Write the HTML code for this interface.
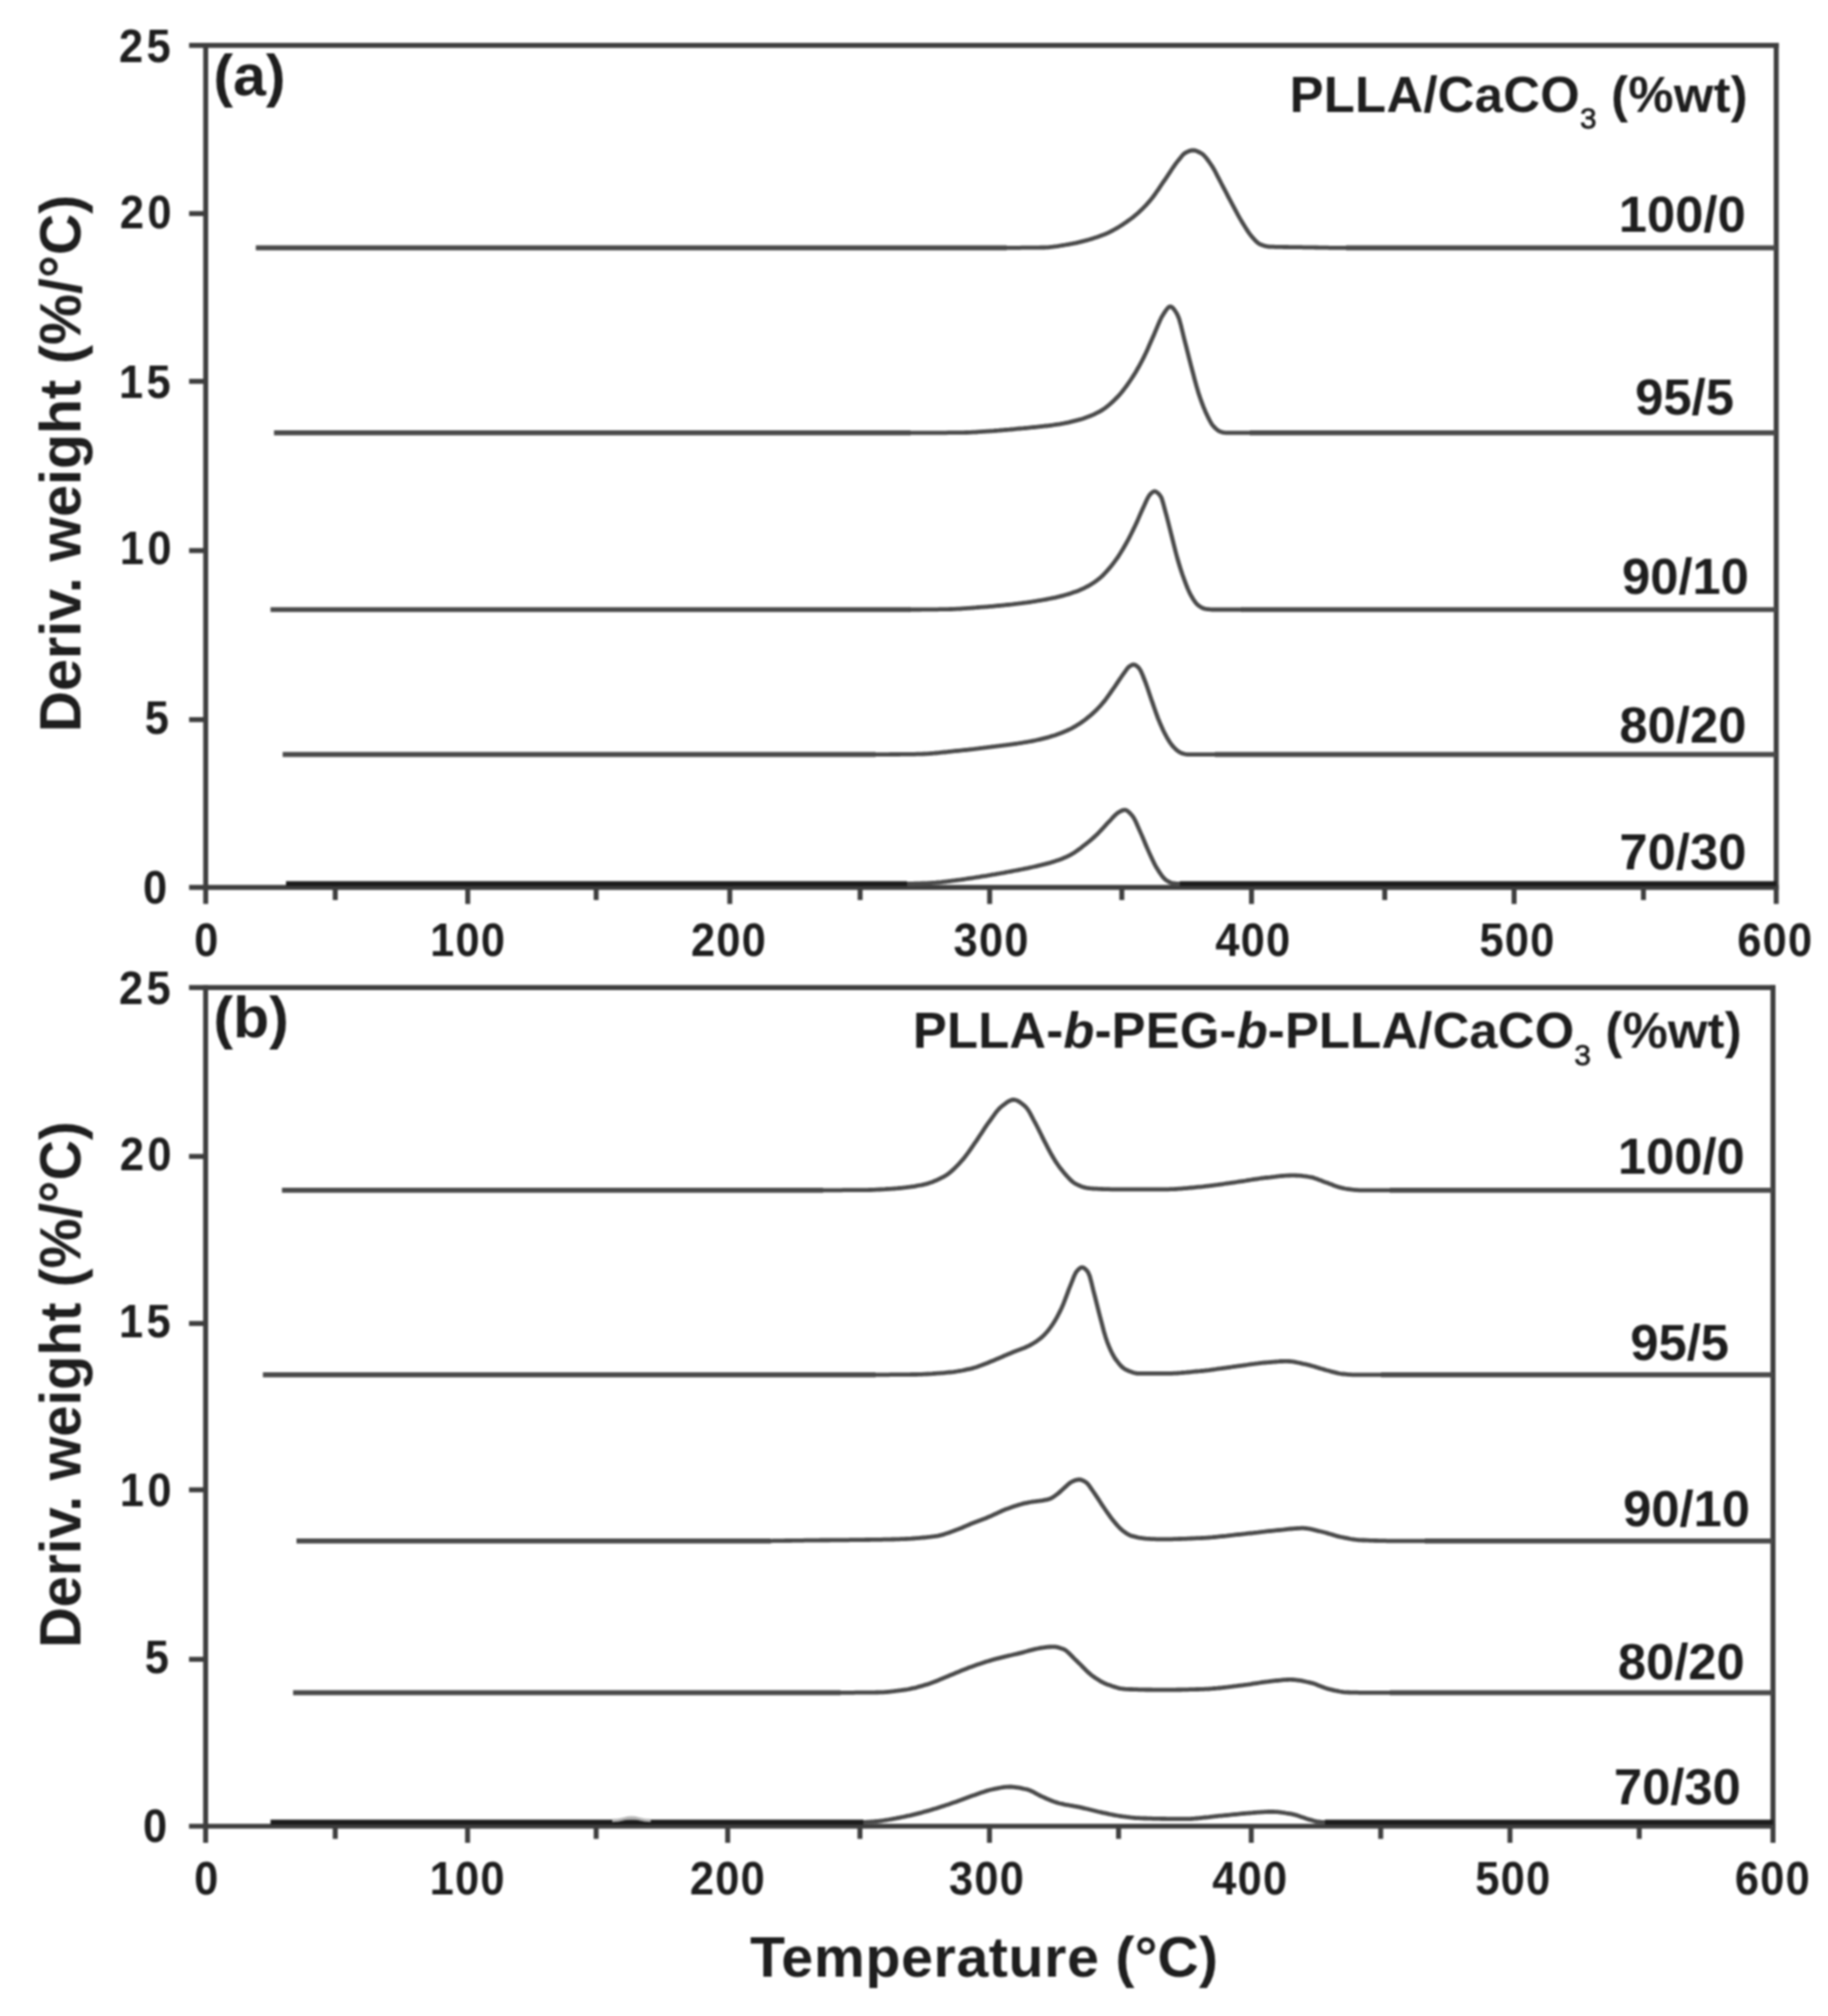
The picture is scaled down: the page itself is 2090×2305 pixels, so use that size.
<!DOCTYPE html>
<html lang="en"><head><meta charset="utf-8"><title>DTG thermograms</title>
<style>
html,body{margin:0;padding:0;background:#fff;}
body{width:2090px;height:2305px;overflow:hidden;}
svg{display:block;filter:blur(0.8px);}
text{font-family:"Liberation Sans",sans-serif;font-weight:bold;fill:#1e1e1e;}
.tk{font-size:54px;}
.lb{font-size:58px;}
.ti{font-size:58px;}
.pn{font-size:67.5px;}
.axl{font-size:65.5px;}
.ax{stroke:#3e3e3e;stroke-width:5.7;fill:none;stroke-linecap:butt;}
.cv{stroke:#4a4a4a;stroke-width:5.7;fill:none;stroke-linejoin:round;stroke-linecap:butt;}
.pk{stroke-width:4.8px;}
.dk{stroke:#1c1c1c;}
</style></head><body>
<svg width="2090" height="2305" viewBox="0 0 2090 2305">
<rect x="0" y="0" width="2090" height="2305" fill="#ffffff"/>
<g class="ax">
<path d="M216.2 51.8 H2033.6"/>
<path d="M216.2 1014.6 H2033.6"/>
<path d="M235.2 48.9 V1033.6"/>
<path d="M2030.8 48.9 V1033.6"/>
<path d="M216.2 244.2 H235.2"/>
<path d="M216.2 436.0 H235.2"/>
<path d="M216.2 629.5 H235.2"/>
<path d="M216.2 822.8 H235.2"/>
<path d="M383.3 1014.6 V1029.1"/>
<path d="M534.8 1014.6 V1033.6"/>
<path d="M681.6 1014.6 V1029.1"/>
<path d="M834.4 1014.6 V1033.6"/>
<path d="M983.4 1014.6 V1029.1"/>
<path d="M1131.5 1014.6 V1033.6"/>
<path d="M1282.6 1014.6 V1029.1"/>
<path d="M1430.9 1014.6 V1033.6"/>
<path d="M1583.2 1014.6 V1029.1"/>
<path d="M1731.1 1014.6 V1033.6"/>
<path d="M1879.0 1014.6 V1029.1"/>
</g>
<text class="tk" text-anchor="end" letter-spacing="4.2" transform="translate(199.0 70.5) scale(0.920 1)">25</text>
<text class="tk" text-anchor="end" letter-spacing="4.2" transform="translate(200.0 260.5) scale(0.920 1)">20</text>
<text class="tk" text-anchor="end" letter-spacing="4.2" transform="translate(199.0 455.3) scale(0.920 1)">15</text>
<text class="tk" text-anchor="end" letter-spacing="4.2" transform="translate(200.0 645.4) scale(0.920 1)">10</text>
<text class="tk" text-anchor="end" letter-spacing="4.2" transform="translate(197.0 839.4) scale(0.920 1)">5</text>
<text class="tk" text-anchor="end" letter-spacing="4.2" transform="translate(195.0 1033.4) scale(0.920 1)">0</text>
<text class="tk" text-anchor="middle" letter-spacing="1.5" transform="translate(236.6 1092.8) scale(0.920 1)">0</text>
<text class="tk" text-anchor="middle" letter-spacing="1.5" transform="translate(535.3 1092.8) scale(0.920 1)">100</text>
<text class="tk" text-anchor="middle" letter-spacing="1.5" transform="translate(833.4 1092.8) scale(0.920 1)">200</text>
<text class="tk" text-anchor="middle" letter-spacing="1.5" transform="translate(1133.8 1092.8) scale(0.920 1)">300</text>
<text class="tk" text-anchor="middle" letter-spacing="1.5" transform="translate(1433.0 1092.8) scale(0.920 1)">400</text>
<text class="tk" text-anchor="middle" letter-spacing="1.5" transform="translate(1734.9 1092.8) scale(0.920 1)">500</text>
<text class="tk" text-anchor="middle" letter-spacing="1.5" transform="translate(2029.8 1092.8) scale(0.920 1)">600</text>
<g class="cv">
<path class="pk" d="M1150.0 283.3L1152.0 283.3L1154.0 283.3L1156.0 283.3L1158.0 283.3L1160.0 283.3L1162.0 283.3L1164.0 283.3L1166.0 283.3L1168.0 283.2L1170.0 283.2L1172.0 283.2L1174.0 283.2L1176.0 283.2L1178.0 283.2L1180.0 283.2L1182.0 283.1L1184.0 283.1L1186.0 283.1L1188.0 283.1L1190.0 283.0L1192.0 283.0L1194.0 283.0L1196.0 282.9L1198.0 282.8L1200.0 282.6L1202.0 282.4L1204.0 282.2L1206.0 281.9L1208.0 281.7L1210.0 281.4L1212.0 281.0L1214.0 280.7L1216.0 280.3L1218.0 280.0L1220.0 279.6L1222.0 279.3L1224.0 278.9L1226.0 278.6L1228.0 278.2L1230.0 277.8L1232.0 277.3L1234.0 276.9L1236.0 276.4L1238.0 275.9L1240.0 275.4L1242.0 274.8L1244.0 274.3L1246.0 273.7L1248.0 273.1L1250.0 272.5L1252.0 271.8L1254.0 271.2L1256.0 270.5L1258.0 269.8L1260.0 269.0L1262.0 268.3L1264.0 267.5L1266.0 266.6L1268.0 265.7L1270.0 264.7L1272.0 263.6L1274.0 262.5L1276.0 261.4L1278.0 260.2L1280.0 259.0L1282.0 257.7L1284.0 256.4L1286.0 255.1L1288.0 253.7L1290.0 252.3L1292.0 250.9L1294.0 249.4L1296.0 247.8L1298.0 246.2L1300.0 244.5L1302.0 242.7L1304.0 240.8L1306.0 238.9L1308.0 236.9L1310.0 234.8L1312.0 232.6L1314.0 230.4L1316.0 228.0L1318.0 225.5L1320.0 222.8L1322.0 219.9L1324.0 217.1L1326.0 214.1L1328.0 211.2L1330.0 208.2L1332.0 205.3L1334.0 202.4L1336.0 199.4L1338.0 196.4L1340.0 193.3L1342.0 190.3L1344.0 187.5L1346.0 184.9L1348.0 182.4L1350.0 179.9L1352.0 177.5L1354.0 175.6L1356.0 174.4L1358.0 173.4L1360.0 172.6L1362.0 172.0L1364.0 171.8L1366.0 172.0L1368.0 172.6L1370.0 173.5L1372.0 174.5L1374.0 175.6L1376.0 177.2L1378.0 179.3L1380.0 181.8L1382.0 184.5L1384.0 187.4L1386.0 190.3L1388.0 193.7L1390.0 197.4L1392.0 201.3L1394.0 205.2L1396.0 209.0L1398.0 212.8L1400.0 216.6L1402.0 220.4L1404.0 224.3L1406.0 228.1L1408.0 231.9L1410.0 235.6L1412.0 239.4L1414.0 243.2L1416.0 246.9L1418.0 250.4L1420.0 253.8L1422.0 257.1L1424.0 260.3L1426.0 263.4L1428.0 266.4L1430.0 269.0L1432.0 271.4L1434.0 273.6L1436.0 275.8L1438.0 277.6L1440.0 278.9L1442.0 279.7L1444.0 280.5L1446.0 281.2L1448.0 281.6L1450.0 282.0L1452.0 282.1L1454.0 282.2L1456.0 282.2L1458.0 282.3L1460.0 282.3L1462.0 282.3L1464.0 282.4L1466.0 282.4L1468.0 282.5L1470.0 282.5L1472.0 282.5L1474.0 282.6L1476.0 282.6L1478.0 282.6L1480.0 282.6L1482.0 282.7L1484.0 282.7L1486.0 282.7L1488.0 282.7L1490.0 282.8L1492.0 282.8L1494.0 282.8L1496.0 282.9L1498.0 282.9L1500.0 282.9L1502.0 282.9L1504.0 283.0L1506.0 283.0L1508.0 283.1L1510.0 283.1L1512.0 283.1L1514.0 283.2L1516.0 283.2L1518.0 283.2L1520.0 283.3L1522.0 283.3L1524.0 283.3L1526.0 283.3L1528.0 283.3L1530.0 283.3L1532.0 283.3L1534.0 283.3L1536.0 283.3L1538.0 283.3L1540.0 283.3"/>
<path d="M292.5 283.3H1151.0M1539.0 283.3H2030.8"/>
<path class="pk" d="M1040.0 494.9L1042.0 494.9L1044.0 494.9L1046.0 494.9L1048.0 494.9L1050.0 494.9L1052.0 494.9L1054.0 494.9L1056.0 494.9L1058.0 494.9L1060.0 494.9L1062.0 494.9L1064.0 494.9L1066.0 494.8L1068.0 494.8L1070.0 494.8L1072.0 494.8L1074.0 494.8L1076.0 494.8L1078.0 494.8L1080.0 494.8L1082.0 494.8L1084.0 494.7L1086.0 494.7L1088.0 494.7L1090.0 494.7L1092.0 494.7L1094.0 494.7L1096.0 494.6L1098.0 494.6L1100.0 494.6L1102.0 494.6L1104.0 494.5L1106.0 494.5L1108.0 494.4L1110.0 494.3L1112.0 494.2L1114.0 494.1L1116.0 494.0L1118.0 493.8L1120.0 493.7L1122.0 493.6L1124.0 493.4L1126.0 493.3L1128.0 493.2L1130.0 493.1L1132.0 492.9L1134.0 492.8L1136.0 492.7L1138.0 492.5L1140.0 492.3L1142.0 492.2L1144.0 492.0L1146.0 491.9L1148.0 491.7L1150.0 491.5L1152.0 491.3L1154.0 491.2L1156.0 491.0L1158.0 490.8L1160.0 490.6L1162.0 490.4L1164.0 490.2L1166.0 490.0L1168.0 489.8L1170.0 489.7L1172.0 489.5L1174.0 489.3L1176.0 489.1L1178.0 488.9L1180.0 488.7L1182.0 488.5L1184.0 488.3L1186.0 488.1L1188.0 487.9L1190.0 487.7L1192.0 487.5L1194.0 487.2L1196.0 487.0L1198.0 486.8L1200.0 486.5L1202.0 486.3L1204.0 486.0L1206.0 485.7L1208.0 485.4L1210.0 485.1L1212.0 484.8L1214.0 484.4L1216.0 484.1L1218.0 483.7L1220.0 483.3L1222.0 482.9L1224.0 482.4L1226.0 481.9L1228.0 481.4L1230.0 480.9L1232.0 480.4L1234.0 479.8L1236.0 479.3L1238.0 478.7L1240.0 478.0L1242.0 477.3L1244.0 476.6L1246.0 475.8L1248.0 475.0L1250.0 474.1L1252.0 473.2L1254.0 472.2L1256.0 471.2L1258.0 470.1L1260.0 468.9L1262.0 467.6L1264.0 466.2L1266.0 464.6L1268.0 463.0L1270.0 461.2L1272.0 459.4L1274.0 457.5L1276.0 455.5L1278.0 453.5L1280.0 451.3L1282.0 449.0L1284.0 446.5L1286.0 443.9L1288.0 441.2L1290.0 438.4L1292.0 435.5L1294.0 432.5L1296.0 429.4L1298.0 426.2L1300.0 422.8L1302.0 419.3L1304.0 415.6L1306.0 411.8L1308.0 407.9L1310.0 403.8L1312.0 399.4L1314.0 394.8L1316.0 390.2L1318.0 385.7L1320.0 381.2L1322.0 376.4L1324.0 371.6L1326.0 367.0L1328.0 362.8L1330.0 359.5L1332.0 356.4L1334.0 353.5L1336.0 351.3L1338.0 350.5L1340.0 351.3L1342.0 353.3L1344.0 356.1L1346.0 359.5L1348.0 364.2L1350.0 371.3L1352.0 379.5L1354.0 387.8L1356.0 395.4L1358.0 403.4L1360.0 411.3L1362.0 419.2L1364.0 426.7L1366.0 434.3L1368.0 441.6L1370.0 448.4L1372.0 454.5L1374.0 460.1L1376.0 465.4L1378.0 470.2L1380.0 474.5L1382.0 478.7L1384.0 482.5L1386.0 485.7L1388.0 488.0L1390.0 490.0L1392.0 491.8L1394.0 493.1L1396.0 493.8L1398.0 494.4L1400.0 494.7L1402.0 494.9L1404.0 494.9L1406.0 494.9L1408.0 494.9L1410.0 494.9L1412.0 494.9L1414.0 494.9L1416.0 494.9L1418.0 494.9L1420.0 494.9L1422.0 494.9L1424.0 494.9L1426.0 494.9L1428.0 494.9L1430.0 494.9"/>
<path d="M313.3 494.9H1041.0M1429.0 494.9H2030.8"/>
<path class="pk" d="M1040.0 697.0L1042.0 697.0L1044.0 697.0L1046.0 697.0L1048.0 697.0L1050.0 697.0L1052.0 697.0L1054.0 696.9L1056.0 696.9L1058.0 696.9L1060.0 696.9L1062.0 696.9L1064.0 696.9L1066.0 696.8L1068.0 696.8L1070.0 696.8L1072.0 696.8L1074.0 696.7L1076.0 696.7L1078.0 696.7L1080.0 696.6L1082.0 696.6L1084.0 696.6L1086.0 696.5L1088.0 696.5L1090.0 696.4L1092.0 696.3L1094.0 696.2L1096.0 696.1L1098.0 696.0L1100.0 695.8L1102.0 695.7L1104.0 695.6L1106.0 695.4L1108.0 695.3L1110.0 695.1L1112.0 695.0L1114.0 694.8L1116.0 694.7L1118.0 694.5L1120.0 694.4L1122.0 694.2L1124.0 694.1L1126.0 693.9L1128.0 693.8L1130.0 693.6L1132.0 693.4L1134.0 693.3L1136.0 693.1L1138.0 692.9L1140.0 692.7L1142.0 692.5L1144.0 692.4L1146.0 692.2L1148.0 692.0L1150.0 691.7L1152.0 691.5L1154.0 691.3L1156.0 691.1L1158.0 690.9L1160.0 690.6L1162.0 690.4L1164.0 690.2L1166.0 689.9L1168.0 689.7L1170.0 689.4L1172.0 689.1L1174.0 688.9L1176.0 688.6L1178.0 688.3L1180.0 688.0L1182.0 687.7L1184.0 687.4L1186.0 687.0L1188.0 686.7L1190.0 686.4L1192.0 686.0L1194.0 685.7L1196.0 685.3L1198.0 684.9L1200.0 684.5L1202.0 684.1L1204.0 683.7L1206.0 683.3L1208.0 682.8L1210.0 682.4L1212.0 681.9L1214.0 681.4L1216.0 680.9L1218.0 680.3L1220.0 679.7L1222.0 679.1L1224.0 678.5L1226.0 677.8L1228.0 677.1L1230.0 676.4L1232.0 675.7L1234.0 674.9L1236.0 674.0L1238.0 673.1L1240.0 672.2L1242.0 671.2L1244.0 670.1L1246.0 669.0L1248.0 667.7L1250.0 666.5L1252.0 665.1L1254.0 663.7L1256.0 662.2L1258.0 660.5L1260.0 658.7L1262.0 656.7L1264.0 654.6L1266.0 652.4L1268.0 650.1L1270.0 647.7L1272.0 645.2L1274.0 642.6L1276.0 639.9L1278.0 637.1L1280.0 634.0L1282.0 630.8L1284.0 627.5L1286.0 624.0L1288.0 620.5L1290.0 616.9L1292.0 613.0L1294.0 609.0L1296.0 604.9L1298.0 600.7L1300.0 596.4L1302.0 591.9L1304.0 587.3L1306.0 582.8L1308.0 578.5L1310.0 574.1L1312.0 569.8L1314.0 566.4L1316.0 564.2L1318.0 562.5L1320.0 561.7L1322.0 562.3L1324.0 563.8L1326.0 566.0L1328.0 569.2L1330.0 575.8L1332.0 583.4L1334.0 590.7L1336.0 598.5L1338.0 606.5L1340.0 614.4L1342.0 622.5L1344.0 630.5L1346.0 638.0L1348.0 644.8L1350.0 651.2L1352.0 657.2L1354.0 662.7L1356.0 668.1L1358.0 673.1L1360.0 677.6L1362.0 681.3L1364.0 684.7L1366.0 687.8L1368.0 690.3L1370.0 692.1L1372.0 693.5L1374.0 694.7L1376.0 695.6L1378.0 696.1L1380.0 696.5L1382.0 696.7L1384.0 696.9L1386.0 697.0L1388.0 697.0L1390.0 697.0L1392.0 697.0L1394.0 697.0L1396.0 697.0L1398.0 697.0L1400.0 697.0L1402.0 697.0L1404.0 697.0L1406.0 697.0L1408.0 697.0L1410.0 697.0L1412.0 697.0L1414.0 697.0L1416.0 697.0L1418.0 697.0L1420.0 697.0"/>
<path d="M309.3 697.0H1041.0M1419.0 697.0H2030.8"/>
<path class="pk" d="M1000.0 862.6L1002.0 862.6L1004.0 862.6L1006.0 862.6L1008.0 862.6L1010.0 862.6L1012.0 862.6L1014.0 862.6L1016.0 862.6L1018.0 862.5L1020.0 862.5L1022.0 862.5L1024.0 862.5L1026.0 862.5L1028.0 862.5L1030.0 862.4L1032.0 862.4L1034.0 862.4L1036.0 862.4L1038.0 862.4L1040.0 862.3L1042.0 862.3L1044.0 862.3L1046.0 862.3L1048.0 862.2L1050.0 862.2L1052.0 862.1L1054.0 862.1L1056.0 862.0L1058.0 861.9L1060.0 861.8L1062.0 861.6L1064.0 861.5L1066.0 861.3L1068.0 861.2L1070.0 861.0L1072.0 860.8L1074.0 860.6L1076.0 860.4L1078.0 860.2L1080.0 860.0L1082.0 859.8L1084.0 859.5L1086.0 859.3L1088.0 859.1L1090.0 858.9L1092.0 858.7L1094.0 858.5L1096.0 858.3L1098.0 858.1L1100.0 857.9L1102.0 857.7L1104.0 857.5L1106.0 857.3L1108.0 857.0L1110.0 856.8L1112.0 856.6L1114.0 856.4L1116.0 856.1L1118.0 855.9L1120.0 855.6L1122.0 855.4L1124.0 855.2L1126.0 854.9L1128.0 854.7L1130.0 854.4L1132.0 854.2L1134.0 853.9L1136.0 853.6L1138.0 853.4L1140.0 853.1L1142.0 852.9L1144.0 852.6L1146.0 852.4L1148.0 852.1L1150.0 851.9L1152.0 851.6L1154.0 851.4L1156.0 851.1L1158.0 850.8L1160.0 850.5L1162.0 850.3L1164.0 850.0L1166.0 849.7L1168.0 849.4L1170.0 849.0L1172.0 848.7L1174.0 848.4L1176.0 848.0L1178.0 847.7L1180.0 847.3L1182.0 846.9L1184.0 846.5L1186.0 846.0L1188.0 845.6L1190.0 845.1L1192.0 844.6L1194.0 844.1L1196.0 843.6L1198.0 843.1L1200.0 842.5L1202.0 841.9L1204.0 841.3L1206.0 840.7L1208.0 840.0L1210.0 839.3L1212.0 838.6L1214.0 837.8L1216.0 836.9L1218.0 836.1L1220.0 835.2L1222.0 834.3L1224.0 833.3L1226.0 832.3L1228.0 831.2L1230.0 830.1L1232.0 828.8L1234.0 827.6L1236.0 826.2L1238.0 824.8L1240.0 823.3L1242.0 821.8L1244.0 820.2L1246.0 818.6L1248.0 816.9L1250.0 815.1L1252.0 813.2L1254.0 811.3L1256.0 809.2L1258.0 807.1L1260.0 804.8L1262.0 802.4L1264.0 799.9L1266.0 797.1L1268.0 794.3L1270.0 791.5L1272.0 788.6L1274.0 785.8L1276.0 782.9L1278.0 779.9L1280.0 776.9L1282.0 774.0L1284.0 771.2L1286.0 768.4L1288.0 765.5L1290.0 763.0L1292.0 761.5L1294.0 760.4L1296.0 759.8L1298.0 760.3L1300.0 761.7L1302.0 763.6L1304.0 766.5L1306.0 770.9L1308.0 776.0L1310.0 781.1L1312.0 786.7L1314.0 792.7L1316.0 798.7L1318.0 804.4L1320.0 810.2L1322.0 815.9L1324.0 821.3L1326.0 826.2L1328.0 830.8L1330.0 835.2L1332.0 839.2L1334.0 842.9L1336.0 846.2L1338.0 849.4L1340.0 852.1L1342.0 854.4L1344.0 856.4L1346.0 858.2L1348.0 859.7L1350.0 860.7L1352.0 861.4L1354.0 862.0L1356.0 862.4L1358.0 862.6L1360.0 862.6L1362.0 862.6L1364.0 862.6L1366.0 862.6L1368.0 862.6L1370.0 862.6L1372.0 862.6L1374.0 862.6L1376.0 862.6L1378.0 862.6L1380.0 862.6L1382.0 862.6L1384.0 862.6L1386.0 862.6L1388.0 862.6L1390.0 862.6"/>
<path d="M323.2 862.6H1001.0M1389.0 862.6H2030.8"/>
<path class="pk" d="M1036.0 1010.4L1038.0 1010.4L1040.0 1010.4L1042.0 1010.3L1044.0 1010.3L1046.0 1010.2L1048.0 1010.2L1050.0 1010.1L1052.0 1010.1L1054.0 1010.0L1056.0 1009.9L1058.0 1009.9L1060.0 1009.8L1062.0 1009.7L1064.0 1009.6L1066.0 1009.4L1068.0 1009.3L1070.0 1009.2L1072.0 1009.0L1074.0 1008.9L1076.0 1008.7L1078.0 1008.4L1080.0 1008.2L1082.0 1008.0L1084.0 1007.7L1086.0 1007.5L1088.0 1007.2L1090.0 1006.9L1092.0 1006.7L1094.0 1006.4L1096.0 1006.1L1098.0 1005.9L1100.0 1005.6L1102.0 1005.3L1104.0 1005.0L1106.0 1004.7L1108.0 1004.4L1110.0 1004.1L1112.0 1003.8L1114.0 1003.5L1116.0 1003.2L1118.0 1002.9L1120.0 1002.6L1122.0 1002.2L1124.0 1001.9L1126.0 1001.6L1128.0 1001.3L1130.0 1000.9L1132.0 1000.6L1134.0 1000.2L1136.0 999.9L1138.0 999.6L1140.0 999.2L1142.0 998.9L1144.0 998.5L1146.0 998.1L1148.0 997.8L1150.0 997.4L1152.0 997.0L1154.0 996.7L1156.0 996.3L1158.0 995.9L1160.0 995.5L1162.0 995.2L1164.0 994.8L1166.0 994.4L1168.0 994.0L1170.0 993.6L1172.0 993.2L1174.0 992.8L1176.0 992.4L1178.0 991.9L1180.0 991.5L1182.0 991.0L1184.0 990.6L1186.0 990.1L1188.0 989.6L1190.0 989.2L1192.0 988.7L1194.0 988.2L1196.0 987.6L1198.0 987.1L1200.0 986.6L1202.0 986.0L1204.0 985.4L1206.0 984.8L1208.0 984.1L1210.0 983.4L1212.0 982.7L1214.0 982.0L1216.0 981.1L1218.0 980.3L1220.0 979.3L1222.0 978.3L1224.0 977.3L1226.0 976.2L1228.0 975.0L1230.0 973.6L1232.0 972.2L1234.0 970.8L1236.0 969.3L1238.0 967.7L1240.0 966.2L1242.0 964.6L1244.0 963.0L1246.0 961.4L1248.0 959.7L1250.0 957.9L1252.0 956.1L1254.0 954.2L1256.0 952.2L1258.0 950.1L1260.0 948.0L1262.0 945.8L1264.0 943.6L1266.0 941.4L1268.0 939.4L1270.0 937.3L1272.0 935.0L1274.0 932.9L1276.0 931.0L1278.0 929.4L1280.0 928.2L1282.0 927.2L1284.0 926.3L1286.0 926.0L1288.0 926.5L1290.0 927.9L1292.0 929.8L1294.0 932.0L1296.0 934.6L1298.0 938.3L1300.0 942.7L1302.0 947.4L1304.0 951.9L1306.0 956.4L1308.0 961.2L1310.0 966.0L1312.0 970.6L1314.0 975.1L1316.0 979.4L1318.0 983.7L1320.0 987.9L1322.0 991.6L1324.0 994.8L1326.0 997.9L1328.0 1000.7L1330.0 1003.3L1332.0 1005.3L1334.0 1006.8L1336.0 1008.0L1338.0 1009.0L1340.0 1009.7L1342.0 1010.0L1344.0 1010.2L1346.0 1010.3L1348.0 1010.4L1350.0 1010.4"/>
<path class="dk" d="M327.0 1010.4H1037.0M1349.0 1010.4H2030.8"/>
</g>
<text class="pn" x="244.0" y="108.5">(a)</text>
<text class="axl" style="font-size:67.0px" text-anchor="middle" transform="translate(91.5 530.0) rotate(-90) scale(0.978 1)">Deriv. weight (%/&#176;C)</text>
<g class="ax">
<path d="M216.1 1129.2 H2029.9"/>
<path d="M216.1 2088.0 H2029.9"/>
<path d="M235.1 1126.4 V2107.0"/>
<path d="M2027.1 1126.4 V2107.0"/>
<path d="M216.1 1322.2 H235.1"/>
<path d="M216.1 1513.2 H235.1"/>
<path d="M216.1 1703.4 H235.1"/>
<path d="M216.1 1897.2 H235.1"/>
<path d="M383.3 2088.0 V2102.5"/>
<path d="M534.6 2088.0 V2107.0"/>
<path d="M681.6 2088.0 V2102.5"/>
<path d="M832.0 2088.0 V2107.0"/>
<path d="M983.2 2088.0 V2102.5"/>
<path d="M1131.3 2088.0 V2107.0"/>
<path d="M1278.9 2088.0 V2102.5"/>
<path d="M1430.6 2088.0 V2107.0"/>
<path d="M1578.6 2088.0 V2102.5"/>
<path d="M1726.4 2088.0 V2107.0"/>
<path d="M1874.2 2088.0 V2102.5"/>
</g>
<text class="tk" text-anchor="end" letter-spacing="4.2" transform="translate(199.0 1147.5) scale(0.920 1)">25</text>
<text class="tk" text-anchor="end" letter-spacing="4.2" transform="translate(200.0 1338.0) scale(0.920 1)">20</text>
<text class="tk" text-anchor="end" letter-spacing="4.2" transform="translate(199.0 1528.5) scale(0.920 1)">15</text>
<text class="tk" text-anchor="end" letter-spacing="4.2" transform="translate(200.0 1722.0) scale(0.920 1)">10</text>
<text class="tk" text-anchor="end" letter-spacing="4.2" transform="translate(197.0 1912.6) scale(0.920 1)">5</text>
<text class="tk" text-anchor="end" letter-spacing="4.2" transform="translate(195.0 2106.3) scale(0.920 1)">0</text>
<text class="tk" text-anchor="middle" letter-spacing="1.5" transform="translate(236.6 2166.2) scale(0.920 1)">0</text>
<text class="tk" text-anchor="middle" letter-spacing="1.5" transform="translate(534.8 2166.2) scale(0.920 1)">100</text>
<text class="tk" text-anchor="middle" letter-spacing="1.5" transform="translate(832.3 2166.2) scale(0.920 1)">200</text>
<text class="tk" text-anchor="middle" letter-spacing="1.5" transform="translate(1128.6 2166.2) scale(0.920 1)">300</text>
<text class="tk" text-anchor="middle" letter-spacing="1.5" transform="translate(1429.6 2166.2) scale(0.920 1)">400</text>
<text class="tk" text-anchor="middle" letter-spacing="1.5" transform="translate(1730.3 2166.2) scale(0.920 1)">500</text>
<text class="tk" text-anchor="middle" letter-spacing="1.5" transform="translate(2027.1 2166.2) scale(0.920 1)">600</text>
<g class="cv">
<path class="pk" d="M940.0 1360.8L942.0 1360.8L944.0 1360.8L946.0 1360.8L948.0 1360.8L950.0 1360.8L952.0 1360.8L954.0 1360.8L956.0 1360.8L958.0 1360.8L960.0 1360.8L962.0 1360.8L964.0 1360.7L966.0 1360.7L968.0 1360.7L970.0 1360.7L972.0 1360.7L974.0 1360.7L976.0 1360.7L978.0 1360.7L980.0 1360.7L982.0 1360.6L984.0 1360.6L986.0 1360.6L988.0 1360.6L990.0 1360.6L992.0 1360.6L994.0 1360.5L996.0 1360.5L998.0 1360.4L1000.0 1360.3L1002.0 1360.2L1004.0 1360.1L1006.0 1360.0L1008.0 1359.9L1010.0 1359.8L1012.0 1359.7L1014.0 1359.5L1016.0 1359.4L1018.0 1359.3L1020.0 1359.1L1022.0 1359.0L1024.0 1358.8L1026.0 1358.7L1028.0 1358.5L1030.0 1358.3L1032.0 1358.1L1034.0 1357.9L1036.0 1357.7L1038.0 1357.4L1040.0 1357.2L1042.0 1356.9L1044.0 1356.6L1046.0 1356.3L1048.0 1355.9L1050.0 1355.5L1052.0 1355.2L1054.0 1354.8L1056.0 1354.3L1058.0 1353.9L1060.0 1353.4L1062.0 1352.8L1064.0 1352.1L1066.0 1351.4L1068.0 1350.6L1070.0 1349.8L1072.0 1348.9L1074.0 1347.9L1076.0 1346.9L1078.0 1345.9L1080.0 1344.8L1082.0 1343.6L1084.0 1342.2L1086.0 1340.6L1088.0 1338.9L1090.0 1337.1L1092.0 1335.2L1094.0 1333.1L1096.0 1331.1L1098.0 1328.9L1100.0 1326.7L1102.0 1324.4L1104.0 1321.8L1106.0 1319.1L1108.0 1316.3L1110.0 1313.5L1112.0 1310.6L1114.0 1307.7L1116.0 1304.9L1118.0 1301.9L1120.0 1298.8L1122.0 1295.8L1124.0 1292.7L1126.0 1289.7L1128.0 1286.7L1130.0 1283.9L1132.0 1281.2L1134.0 1278.4L1136.0 1275.6L1138.0 1272.8L1140.0 1270.3L1142.0 1268.0L1144.0 1266.0L1146.0 1264.4L1148.0 1262.8L1150.0 1261.3L1152.0 1259.9L1154.0 1258.7L1156.0 1257.9L1158.0 1257.4L1160.0 1257.5L1162.0 1258.0L1164.0 1258.9L1166.0 1260.1L1168.0 1261.6L1170.0 1263.2L1172.0 1264.8L1174.0 1267.0L1176.0 1269.9L1178.0 1273.3L1180.0 1277.1L1182.0 1281.0L1184.0 1284.7L1186.0 1288.5L1188.0 1292.5L1190.0 1296.5L1192.0 1300.6L1194.0 1304.6L1196.0 1308.4L1198.0 1312.3L1200.0 1316.1L1202.0 1319.8L1204.0 1323.3L1206.0 1326.6L1208.0 1329.6L1210.0 1332.5L1212.0 1335.3L1214.0 1337.8L1216.0 1340.3L1218.0 1342.6L1220.0 1344.8L1222.0 1347.0L1224.0 1349.1L1226.0 1350.9L1228.0 1352.5L1230.0 1353.6L1232.0 1354.6L1234.0 1355.5L1236.0 1356.4L1238.0 1357.1L1240.0 1357.7L1242.0 1358.2L1244.0 1358.5L1246.0 1358.7L1248.0 1358.8L1250.0 1359.0L1252.0 1359.1L1254.0 1359.2L1256.0 1359.3L1258.0 1359.4L1260.0 1359.5L1262.0 1359.6L1264.0 1359.6L1266.0 1359.7L1268.0 1359.7L1270.0 1359.8L1272.0 1359.8L1274.0 1359.8L1276.0 1359.8L1278.0 1359.8L1280.0 1359.8L1282.0 1359.8L1284.0 1359.8L1286.0 1359.8L1288.0 1359.8L1290.0 1359.8L1292.0 1359.8L1294.0 1359.8L1296.0 1359.8L1298.0 1359.8L1300.0 1359.8L1302.0 1359.8L1304.0 1359.8L1306.0 1359.8L1308.0 1359.8L1310.0 1359.8L1312.0 1359.8L1314.0 1359.8L1316.0 1359.8L1318.0 1359.8L1320.0 1359.8L1322.0 1359.8L1324.0 1359.8L1326.0 1359.8L1328.0 1359.8L1330.0 1359.8L1332.0 1359.8L1334.0 1359.8L1336.0 1359.8L1338.0 1359.7L1340.0 1359.7L1342.0 1359.6L1344.0 1359.5L1346.0 1359.4L1348.0 1359.2L1350.0 1359.1L1352.0 1358.9L1354.0 1358.7L1356.0 1358.6L1358.0 1358.4L1360.0 1358.2L1362.0 1358.0L1364.0 1357.8L1366.0 1357.6L1368.0 1357.4L1370.0 1357.2L1372.0 1357.1L1374.0 1356.9L1376.0 1356.7L1378.0 1356.4L1380.0 1356.2L1382.0 1356.0L1384.0 1355.7L1386.0 1355.5L1388.0 1355.2L1390.0 1354.9L1392.0 1354.7L1394.0 1354.4L1396.0 1354.1L1398.0 1353.8L1400.0 1353.5L1402.0 1353.2L1404.0 1353.0L1406.0 1352.7L1408.0 1352.4L1410.0 1352.1L1412.0 1351.8L1414.0 1351.5L1416.0 1351.2L1418.0 1350.9L1420.0 1350.6L1422.0 1350.3L1424.0 1350.0L1426.0 1349.6L1428.0 1349.3L1430.0 1349.0L1432.0 1348.7L1434.0 1348.4L1436.0 1348.1L1438.0 1347.8L1440.0 1347.5L1442.0 1347.2L1444.0 1347.0L1446.0 1346.7L1448.0 1346.5L1450.0 1346.3L1452.0 1346.1L1454.0 1345.8L1456.0 1345.6L1458.0 1345.4L1460.0 1345.1L1462.0 1344.9L1464.0 1344.7L1466.0 1344.5L1468.0 1344.3L1470.0 1344.2L1472.0 1344.1L1474.0 1344.0L1476.0 1343.9L1478.0 1343.9L1480.0 1343.9L1482.0 1344.0L1484.0 1344.1L1486.0 1344.2L1488.0 1344.4L1490.0 1344.7L1492.0 1344.9L1494.0 1345.2L1496.0 1345.5L1498.0 1345.8L1500.0 1346.2L1502.0 1346.7L1504.0 1347.4L1506.0 1348.1L1508.0 1348.9L1510.0 1349.6L1512.0 1350.4L1514.0 1351.2L1516.0 1351.9L1518.0 1352.6L1520.0 1353.4L1522.0 1354.1L1524.0 1354.9L1526.0 1355.7L1528.0 1356.4L1530.0 1357.1L1532.0 1357.7L1534.0 1358.2L1536.0 1358.6L1538.0 1359.0L1540.0 1359.3L1542.0 1359.6L1544.0 1359.9L1546.0 1360.2L1548.0 1360.4L1550.0 1360.6L1552.0 1360.7L1554.0 1360.8L1556.0 1360.8L1558.0 1360.8L1560.0 1360.8L1562.0 1360.8L1564.0 1360.8L1566.0 1360.8L1568.0 1360.8L1570.0 1360.8L1572.0 1360.8L1574.0 1360.8L1576.0 1360.8L1578.0 1360.8L1580.0 1360.8L1582.0 1360.8L1584.0 1360.8L1586.0 1360.8L1588.0 1360.8L1590.0 1360.8"/>
<path d="M322.4 1360.8H941.0M1589.0 1360.8H2027.1"/>
<path class="pk" d="M1000.0 1571.8L1002.0 1571.8L1004.0 1571.8L1006.0 1571.8L1008.0 1571.8L1010.0 1571.8L1012.0 1571.8L1014.0 1571.8L1016.0 1571.8L1018.0 1571.7L1020.0 1571.7L1022.0 1571.7L1024.0 1571.7L1026.0 1571.7L1028.0 1571.7L1030.0 1571.7L1032.0 1571.6L1034.0 1571.6L1036.0 1571.6L1038.0 1571.6L1040.0 1571.6L1042.0 1571.5L1044.0 1571.5L1046.0 1571.5L1048.0 1571.5L1050.0 1571.4L1052.0 1571.4L1054.0 1571.3L1056.0 1571.2L1058.0 1571.1L1060.0 1571.0L1062.0 1570.9L1064.0 1570.8L1066.0 1570.7L1068.0 1570.5L1070.0 1570.4L1072.0 1570.2L1074.0 1570.1L1076.0 1569.9L1078.0 1569.8L1080.0 1569.6L1082.0 1569.4L1084.0 1569.2L1086.0 1569.0L1088.0 1568.8L1090.0 1568.6L1092.0 1568.3L1094.0 1568.0L1096.0 1567.7L1098.0 1567.3L1100.0 1567.0L1102.0 1566.6L1104.0 1566.2L1106.0 1565.7L1108.0 1565.3L1110.0 1564.9L1112.0 1564.4L1114.0 1563.8L1116.0 1563.2L1118.0 1562.5L1120.0 1561.8L1122.0 1561.1L1124.0 1560.3L1126.0 1559.5L1128.0 1558.7L1130.0 1557.9L1132.0 1557.1L1134.0 1556.3L1136.0 1555.5L1138.0 1554.6L1140.0 1553.8L1142.0 1552.9L1144.0 1552.1L1146.0 1551.2L1148.0 1550.3L1150.0 1549.4L1152.0 1548.6L1154.0 1547.7L1156.0 1546.9L1158.0 1546.1L1160.0 1545.3L1162.0 1544.5L1164.0 1543.8L1166.0 1543.1L1168.0 1542.3L1170.0 1541.6L1172.0 1540.7L1174.0 1539.8L1176.0 1538.9L1178.0 1537.8L1180.0 1536.7L1182.0 1535.5L1184.0 1534.2L1186.0 1532.9L1188.0 1531.4L1190.0 1529.8L1192.0 1528.1L1194.0 1526.2L1196.0 1524.0L1198.0 1521.7L1200.0 1519.1L1202.0 1516.4L1204.0 1513.5L1206.0 1510.3L1208.0 1506.9L1210.0 1503.1L1212.0 1499.2L1214.0 1495.0L1216.0 1490.4L1218.0 1485.2L1220.0 1479.8L1222.0 1474.4L1224.0 1469.4L1226.0 1464.3L1228.0 1459.2L1230.0 1455.0L1232.0 1452.4L1234.0 1450.5L1236.0 1449.2L1238.0 1449.1L1240.0 1450.2L1242.0 1452.1L1244.0 1454.6L1246.0 1459.3L1248.0 1466.9L1250.0 1475.2L1252.0 1482.9L1254.0 1490.9L1256.0 1498.9L1258.0 1506.7L1260.0 1514.2L1262.0 1521.8L1264.0 1528.7L1266.0 1534.6L1268.0 1539.6L1270.0 1544.2L1272.0 1548.3L1274.0 1551.8L1276.0 1554.8L1278.0 1557.4L1280.0 1559.9L1282.0 1562.1L1284.0 1563.9L1286.0 1565.3L1288.0 1566.3L1290.0 1567.2L1292.0 1568.1L1294.0 1568.8L1296.0 1569.5L1298.0 1569.9L1300.0 1570.3L1302.0 1570.4L1304.0 1570.4L1306.0 1570.4L1308.0 1570.4L1310.0 1570.4L1312.0 1570.4L1314.0 1570.4L1316.0 1570.4L1318.0 1570.4L1320.0 1570.4L1322.0 1570.4L1324.0 1570.4L1326.0 1570.4L1328.0 1570.4L1330.0 1570.4L1332.0 1570.4L1334.0 1570.4L1336.0 1570.4L1338.0 1570.3L1340.0 1570.3L1342.0 1570.2L1344.0 1570.1L1346.0 1570.0L1348.0 1569.8L1350.0 1569.7L1352.0 1569.5L1354.0 1569.3L1356.0 1569.2L1358.0 1569.0L1360.0 1568.8L1362.0 1568.6L1364.0 1568.4L1366.0 1568.2L1368.0 1568.0L1370.0 1567.8L1372.0 1567.7L1374.0 1567.5L1376.0 1567.3L1378.0 1567.0L1380.0 1566.8L1382.0 1566.6L1384.0 1566.3L1386.0 1566.0L1388.0 1565.8L1390.0 1565.5L1392.0 1565.2L1394.0 1564.9L1396.0 1564.7L1398.0 1564.4L1400.0 1564.1L1402.0 1563.8L1404.0 1563.5L1406.0 1563.3L1408.0 1563.0L1410.0 1562.7L1412.0 1562.5L1414.0 1562.2L1416.0 1561.9L1418.0 1561.6L1420.0 1561.3L1422.0 1561.0L1424.0 1560.8L1426.0 1560.5L1428.0 1560.2L1430.0 1559.9L1432.0 1559.6L1434.0 1559.4L1436.0 1559.1L1438.0 1558.9L1440.0 1558.6L1442.0 1558.4L1444.0 1558.2L1446.0 1558.0L1448.0 1557.8L1450.0 1557.6L1452.0 1557.5L1454.0 1557.3L1456.0 1557.1L1458.0 1557.0L1460.0 1556.8L1462.0 1556.7L1464.0 1556.5L1466.0 1556.5L1468.0 1556.4L1470.0 1556.4L1472.0 1556.4L1474.0 1556.5L1476.0 1556.7L1478.0 1556.9L1480.0 1557.2L1482.0 1557.6L1484.0 1558.0L1486.0 1558.4L1488.0 1558.8L1490.0 1559.3L1492.0 1559.7L1494.0 1560.2L1496.0 1560.6L1498.0 1561.1L1500.0 1561.7L1502.0 1562.3L1504.0 1562.9L1506.0 1563.5L1508.0 1564.1L1510.0 1564.7L1512.0 1565.3L1514.0 1565.9L1516.0 1566.5L1518.0 1567.0L1520.0 1567.5L1522.0 1568.1L1524.0 1568.6L1526.0 1569.1L1528.0 1569.6L1530.0 1570.1L1532.0 1570.5L1534.0 1570.8L1536.0 1571.0L1538.0 1571.2L1540.0 1571.4L1542.0 1571.6L1544.0 1571.7L1546.0 1571.8L1548.0 1571.8L1550.0 1571.8L1552.0 1571.8L1554.0 1571.8L1556.0 1571.8L1558.0 1571.8L1560.0 1571.8L1562.0 1571.8L1564.0 1571.8L1566.0 1571.8L1568.0 1571.8L1570.0 1571.8L1572.0 1571.8L1574.0 1571.8L1576.0 1571.8L1578.0 1571.8L1580.0 1571.8"/>
<path d="M300.6 1571.8H1001.0M1579.0 1571.8H2027.1"/>
<path class="pk" d="M880.0 1761.8L882.0 1761.8L884.0 1761.7L886.0 1761.7L888.0 1761.7L890.0 1761.7L892.0 1761.6L894.0 1761.6L896.0 1761.6L898.0 1761.5L900.0 1761.5L902.0 1761.5L904.0 1761.5L906.0 1761.4L908.0 1761.4L910.0 1761.4L912.0 1761.3L914.0 1761.3L916.0 1761.3L918.0 1761.3L920.0 1761.2L922.0 1761.2L924.0 1761.2L926.0 1761.2L928.0 1761.1L930.0 1761.1L932.0 1761.1L934.0 1761.1L936.0 1761.1L938.0 1761.0L940.0 1761.0L942.0 1761.0L944.0 1761.0L946.0 1761.0L948.0 1761.0L950.0 1760.9L952.0 1760.9L954.0 1760.9L956.0 1760.9L958.0 1760.9L960.0 1760.8L962.0 1760.8L964.0 1760.8L966.0 1760.8L968.0 1760.8L970.0 1760.8L972.0 1760.7L974.0 1760.7L976.0 1760.7L978.0 1760.7L980.0 1760.6L982.0 1760.6L984.0 1760.6L986.0 1760.6L988.0 1760.6L990.0 1760.5L992.0 1760.5L994.0 1760.5L996.0 1760.4L998.0 1760.4L1000.0 1760.4L1002.0 1760.4L1004.0 1760.3L1006.0 1760.3L1008.0 1760.3L1010.0 1760.2L1012.0 1760.2L1014.0 1760.1L1016.0 1760.1L1018.0 1760.1L1020.0 1760.0L1022.0 1760.0L1024.0 1759.9L1026.0 1759.9L1028.0 1759.8L1030.0 1759.7L1032.0 1759.7L1034.0 1759.6L1036.0 1759.5L1038.0 1759.4L1040.0 1759.3L1042.0 1759.2L1044.0 1759.0L1046.0 1758.9L1048.0 1758.7L1050.0 1758.6L1052.0 1758.4L1054.0 1758.2L1056.0 1758.0L1058.0 1757.8L1060.0 1757.6L1062.0 1757.4L1064.0 1757.2L1066.0 1756.9L1068.0 1756.7L1070.0 1756.4L1072.0 1756.1L1074.0 1755.7L1076.0 1755.2L1078.0 1754.6L1080.0 1754.0L1082.0 1753.3L1084.0 1752.7L1086.0 1751.9L1088.0 1751.2L1090.0 1750.5L1092.0 1749.7L1094.0 1749.0L1096.0 1748.3L1098.0 1747.5L1100.0 1746.7L1102.0 1745.8L1104.0 1744.9L1106.0 1744.1L1108.0 1743.2L1110.0 1742.3L1112.0 1741.5L1114.0 1740.7L1116.0 1739.9L1118.0 1739.2L1120.0 1738.4L1122.0 1737.7L1124.0 1736.9L1126.0 1736.2L1128.0 1735.4L1130.0 1734.6L1132.0 1733.8L1134.0 1732.9L1136.0 1731.9L1138.0 1731.0L1140.0 1730.1L1142.0 1729.1L1144.0 1728.2L1146.0 1727.3L1148.0 1726.4L1150.0 1725.6L1152.0 1724.9L1154.0 1724.2L1156.0 1723.5L1158.0 1722.8L1160.0 1722.1L1162.0 1721.5L1164.0 1720.9L1166.0 1720.3L1168.0 1719.7L1170.0 1719.2L1172.0 1718.7L1174.0 1718.3L1176.0 1717.9L1178.0 1717.5L1180.0 1717.2L1182.0 1716.9L1184.0 1716.7L1186.0 1716.4L1188.0 1716.2L1190.0 1715.9L1192.0 1715.6L1194.0 1715.2L1196.0 1714.8L1198.0 1714.4L1200.0 1713.8L1202.0 1713.0L1204.0 1711.8L1206.0 1710.4L1208.0 1708.9L1210.0 1707.4L1212.0 1705.6L1214.0 1703.8L1216.0 1701.9L1218.0 1700.2L1220.0 1698.3L1222.0 1696.5L1224.0 1695.0L1226.0 1693.9L1228.0 1693.1L1230.0 1692.3L1232.0 1691.8L1234.0 1691.6L1236.0 1691.9L1238.0 1692.7L1240.0 1693.8L1242.0 1695.1L1244.0 1697.0L1246.0 1699.6L1248.0 1702.6L1250.0 1705.5L1252.0 1708.4L1254.0 1711.4L1256.0 1714.4L1258.0 1717.5L1260.0 1720.6L1262.0 1723.5L1264.0 1726.5L1266.0 1729.4L1268.0 1732.2L1270.0 1735.0L1272.0 1737.6L1274.0 1740.0L1276.0 1742.4L1278.0 1744.7L1280.0 1746.8L1282.0 1748.7L1284.0 1750.3L1286.0 1751.8L1288.0 1753.2L1290.0 1754.4L1292.0 1755.4L1294.0 1756.2L1296.0 1756.7L1298.0 1757.2L1300.0 1757.7L1302.0 1758.1L1304.0 1758.4L1306.0 1758.7L1308.0 1759.0L1310.0 1759.2L1312.0 1759.3L1314.0 1759.4L1316.0 1759.6L1318.0 1759.7L1320.0 1759.7L1322.0 1759.8L1324.0 1759.9L1326.0 1759.9L1328.0 1759.9L1330.0 1759.9L1332.0 1759.9L1334.0 1759.9L1336.0 1759.8L1338.0 1759.8L1340.0 1759.8L1342.0 1759.7L1344.0 1759.7L1346.0 1759.6L1348.0 1759.5L1350.0 1759.5L1352.0 1759.4L1354.0 1759.3L1356.0 1759.3L1358.0 1759.2L1360.0 1759.1L1362.0 1759.0L1364.0 1758.9L1366.0 1758.8L1368.0 1758.7L1370.0 1758.6L1372.0 1758.6L1374.0 1758.5L1376.0 1758.4L1378.0 1758.3L1380.0 1758.1L1382.0 1758.0L1384.0 1757.8L1386.0 1757.7L1388.0 1757.5L1390.0 1757.3L1392.0 1757.1L1394.0 1756.9L1396.0 1756.7L1398.0 1756.5L1400.0 1756.3L1402.0 1756.1L1404.0 1755.8L1406.0 1755.6L1408.0 1755.4L1410.0 1755.2L1412.0 1754.9L1414.0 1754.7L1416.0 1754.5L1418.0 1754.3L1420.0 1754.1L1422.0 1753.9L1424.0 1753.7L1426.0 1753.4L1428.0 1753.2L1430.0 1753.0L1432.0 1752.8L1434.0 1752.5L1436.0 1752.3L1438.0 1752.1L1440.0 1751.8L1442.0 1751.6L1444.0 1751.4L1446.0 1751.2L1448.0 1750.9L1450.0 1750.7L1452.0 1750.5L1454.0 1750.3L1456.0 1750.1L1458.0 1749.9L1460.0 1749.7L1462.0 1749.5L1464.0 1749.3L1466.0 1749.1L1468.0 1748.9L1470.0 1748.6L1472.0 1748.4L1474.0 1748.2L1476.0 1748.0L1478.0 1747.8L1480.0 1747.6L1482.0 1747.5L1484.0 1747.3L1486.0 1747.3L1488.0 1747.2L1490.0 1747.2L1492.0 1747.3L1494.0 1747.5L1496.0 1747.8L1498.0 1748.2L1500.0 1748.6L1502.0 1749.1L1504.0 1749.6L1506.0 1750.1L1508.0 1750.6L1510.0 1751.0L1512.0 1751.5L1514.0 1752.0L1516.0 1752.5L1518.0 1753.1L1520.0 1753.7L1522.0 1754.3L1524.0 1754.9L1526.0 1755.5L1528.0 1756.1L1530.0 1756.6L1532.0 1757.1L1534.0 1757.5L1536.0 1757.9L1538.0 1758.3L1540.0 1758.7L1542.0 1759.1L1544.0 1759.5L1546.0 1759.8L1548.0 1760.1L1550.0 1760.4L1552.0 1760.6L1554.0 1760.8L1556.0 1760.9L1558.0 1761.0L1560.0 1761.0L1562.0 1761.1L1564.0 1761.2L1566.0 1761.3L1568.0 1761.3L1570.0 1761.4L1572.0 1761.5L1574.0 1761.5L1576.0 1761.6L1578.0 1761.6L1580.0 1761.7L1582.0 1761.7L1584.0 1761.7L1586.0 1761.8L1588.0 1761.8L1590.0 1761.8L1592.0 1761.8L1594.0 1761.8L1596.0 1761.8L1598.0 1761.8L1600.0 1761.8L1602.0 1761.8L1604.0 1761.8L1606.0 1761.8L1608.0 1761.8L1610.0 1761.8L1612.0 1761.8L1614.0 1761.8L1616.0 1761.8L1618.0 1761.8L1620.0 1761.8L1622.0 1761.8L1624.0 1761.8L1626.0 1761.8L1628.0 1761.8L1630.0 1761.8"/>
<path d="M339.0 1761.8H881.0M1629.0 1761.8H2027.1"/>
<path class="pk" d="M960.0 1935.3L962.0 1935.3L964.0 1935.3L966.0 1935.3L968.0 1935.3L970.0 1935.3L972.0 1935.3L974.0 1935.3L976.0 1935.3L978.0 1935.2L980.0 1935.2L982.0 1935.2L984.0 1935.2L986.0 1935.2L988.0 1935.2L990.0 1935.2L992.0 1935.1L994.0 1935.1L996.0 1935.1L998.0 1935.1L1000.0 1935.1L1002.0 1935.0L1004.0 1935.0L1006.0 1934.9L1008.0 1934.9L1010.0 1934.8L1012.0 1934.6L1014.0 1934.5L1016.0 1934.3L1018.0 1934.1L1020.0 1933.9L1022.0 1933.7L1024.0 1933.4L1026.0 1933.2L1028.0 1932.9L1030.0 1932.7L1032.0 1932.4L1034.0 1932.1L1036.0 1931.8L1038.0 1931.5L1040.0 1931.1L1042.0 1930.7L1044.0 1930.2L1046.0 1929.8L1048.0 1929.3L1050.0 1928.7L1052.0 1928.2L1054.0 1927.6L1056.0 1927.0L1058.0 1926.4L1060.0 1925.9L1062.0 1925.2L1064.0 1924.5L1066.0 1923.8L1068.0 1923.1L1070.0 1922.3L1072.0 1921.5L1074.0 1920.6L1076.0 1919.8L1078.0 1918.9L1080.0 1918.1L1082.0 1917.2L1084.0 1916.4L1086.0 1915.6L1088.0 1914.8L1090.0 1914.0L1092.0 1913.1L1094.0 1912.3L1096.0 1911.5L1098.0 1910.6L1100.0 1909.8L1102.0 1909.0L1104.0 1908.2L1106.0 1907.4L1108.0 1906.6L1110.0 1905.9L1112.0 1905.2L1114.0 1904.5L1116.0 1903.8L1118.0 1903.1L1120.0 1902.4L1122.0 1901.7L1124.0 1901.1L1126.0 1900.4L1128.0 1899.8L1130.0 1899.2L1132.0 1898.6L1134.0 1898.0L1136.0 1897.4L1138.0 1896.9L1140.0 1896.3L1142.0 1895.8L1144.0 1895.3L1146.0 1894.8L1148.0 1894.3L1150.0 1893.8L1152.0 1893.4L1154.0 1892.9L1156.0 1892.5L1158.0 1892.0L1160.0 1891.5L1162.0 1891.1L1164.0 1890.6L1166.0 1890.1L1168.0 1889.6L1170.0 1889.1L1172.0 1888.5L1174.0 1888.0L1176.0 1887.4L1178.0 1886.9L1180.0 1886.4L1182.0 1885.9L1184.0 1885.4L1186.0 1885.0L1188.0 1884.6L1190.0 1884.2L1192.0 1884.0L1194.0 1883.7L1196.0 1883.4L1198.0 1883.2L1200.0 1883.0L1202.0 1882.9L1204.0 1882.8L1206.0 1882.9L1208.0 1883.2L1210.0 1883.6L1212.0 1884.2L1214.0 1884.9L1216.0 1885.6L1218.0 1886.7L1220.0 1888.2L1222.0 1890.0L1224.0 1892.0L1226.0 1894.0L1228.0 1896.1L1230.0 1898.1L1232.0 1900.0L1234.0 1901.9L1236.0 1903.9L1238.0 1906.0L1240.0 1908.0L1242.0 1910.0L1244.0 1911.9L1246.0 1913.7L1248.0 1915.3L1250.0 1916.8L1252.0 1918.2L1254.0 1919.5L1256.0 1920.8L1258.0 1922.1L1260.0 1923.2L1262.0 1924.2L1264.0 1925.1L1266.0 1925.9L1268.0 1926.6L1270.0 1927.3L1272.0 1928.0L1274.0 1928.6L1276.0 1929.2L1278.0 1929.8L1280.0 1930.3L1282.0 1930.7L1284.0 1931.0L1286.0 1931.2L1288.0 1931.3L1290.0 1931.4L1292.0 1931.5L1294.0 1931.5L1296.0 1931.6L1298.0 1931.7L1300.0 1931.7L1302.0 1931.8L1304.0 1931.8L1306.0 1931.9L1308.0 1931.9L1310.0 1932.0L1312.0 1932.0L1314.0 1932.0L1316.0 1932.0L1318.0 1932.1L1320.0 1932.1L1322.0 1932.1L1324.0 1932.1L1326.0 1932.1L1328.0 1932.1L1330.0 1932.1L1332.0 1932.1L1334.0 1932.1L1336.0 1932.1L1338.0 1932.1L1340.0 1932.1L1342.0 1932.1L1344.0 1932.1L1346.0 1932.0L1348.0 1932.0L1350.0 1932.0L1352.0 1931.9L1354.0 1931.9L1356.0 1931.8L1358.0 1931.8L1360.0 1931.7L1362.0 1931.7L1364.0 1931.6L1366.0 1931.6L1368.0 1931.5L1370.0 1931.5L1372.0 1931.4L1374.0 1931.3L1376.0 1931.3L1378.0 1931.2L1380.0 1931.1L1382.0 1931.0L1384.0 1930.8L1386.0 1930.7L1388.0 1930.5L1390.0 1930.3L1392.0 1930.2L1394.0 1930.0L1396.0 1929.8L1398.0 1929.5L1400.0 1929.3L1402.0 1929.1L1404.0 1928.9L1406.0 1928.6L1408.0 1928.4L1410.0 1928.1L1412.0 1927.9L1414.0 1927.7L1416.0 1927.4L1418.0 1927.2L1420.0 1927.0L1422.0 1926.7L1424.0 1926.4L1426.0 1926.2L1428.0 1925.9L1430.0 1925.6L1432.0 1925.2L1434.0 1924.9L1436.0 1924.6L1438.0 1924.3L1440.0 1924.0L1442.0 1923.7L1444.0 1923.4L1446.0 1923.1L1448.0 1922.8L1450.0 1922.6L1452.0 1922.3L1454.0 1922.1L1456.0 1921.9L1458.0 1921.7L1460.0 1921.5L1462.0 1921.3L1464.0 1921.1L1466.0 1920.9L1468.0 1920.7L1470.0 1920.6L1472.0 1920.5L1474.0 1920.4L1476.0 1920.4L1478.0 1920.5L1480.0 1920.6L1482.0 1920.8L1484.0 1921.1L1486.0 1921.4L1488.0 1921.7L1490.0 1922.1L1492.0 1922.5L1494.0 1923.0L1496.0 1923.4L1498.0 1923.8L1500.0 1924.3L1502.0 1924.9L1504.0 1925.6L1506.0 1926.4L1508.0 1927.2L1510.0 1928.0L1512.0 1928.8L1514.0 1929.6L1516.0 1930.3L1518.0 1930.9L1520.0 1931.4L1522.0 1931.8L1524.0 1932.3L1526.0 1932.8L1528.0 1933.2L1530.0 1933.6L1532.0 1934.0L1534.0 1934.3L1536.0 1934.6L1538.0 1934.8L1540.0 1934.9L1542.0 1935.0L1544.0 1935.1L1546.0 1935.1L1548.0 1935.2L1550.0 1935.2L1552.0 1935.2L1554.0 1935.3L1556.0 1935.3L1558.0 1935.3L1560.0 1935.3L1562.0 1935.3L1564.0 1935.3L1566.0 1935.3L1568.0 1935.3L1570.0 1935.3L1572.0 1935.3L1574.0 1935.3L1576.0 1935.3L1578.0 1935.3L1580.0 1935.3L1582.0 1935.3L1584.0 1935.3L1586.0 1935.3L1588.0 1935.3L1590.0 1935.3"/>
<path d="M335.1 1935.3H961.0M1589.0 1935.3H2027.1"/>
<path class="pk" d="M986.0 2083.4L988.0 2083.4L990.0 2083.3L992.0 2083.2L994.0 2083.1L996.0 2083.0L998.0 2082.9L1000.0 2082.7L1002.0 2082.5L1004.0 2082.3L1006.0 2082.0L1008.0 2081.8L1010.0 2081.5L1012.0 2081.2L1014.0 2080.8L1016.0 2080.5L1018.0 2080.1L1020.0 2079.8L1022.0 2079.4L1024.0 2079.1L1026.0 2078.7L1028.0 2078.3L1030.0 2077.9L1032.0 2077.5L1034.0 2077.1L1036.0 2076.7L1038.0 2076.2L1040.0 2075.8L1042.0 2075.3L1044.0 2074.8L1046.0 2074.3L1048.0 2073.8L1050.0 2073.3L1052.0 2072.8L1054.0 2072.3L1056.0 2071.7L1058.0 2071.2L1060.0 2070.6L1062.0 2070.1L1064.0 2069.5L1066.0 2068.9L1068.0 2068.3L1070.0 2067.7L1072.0 2067.1L1074.0 2066.4L1076.0 2065.8L1078.0 2065.1L1080.0 2064.5L1082.0 2063.8L1084.0 2063.2L1086.0 2062.5L1088.0 2061.8L1090.0 2061.1L1092.0 2060.4L1094.0 2059.7L1096.0 2058.9L1098.0 2058.2L1100.0 2057.5L1102.0 2056.7L1104.0 2056.0L1106.0 2055.2L1108.0 2054.5L1110.0 2053.8L1112.0 2053.1L1114.0 2052.4L1116.0 2051.7L1118.0 2051.0L1120.0 2050.3L1122.0 2049.6L1124.0 2048.9L1126.0 2048.2L1128.0 2047.6L1130.0 2047.0L1132.0 2046.5L1134.0 2046.0L1136.0 2045.6L1138.0 2045.2L1140.0 2044.8L1142.0 2044.4L1144.0 2044.0L1146.0 2043.7L1148.0 2043.4L1150.0 2043.2L1152.0 2043.1L1154.0 2043.0L1156.0 2043.0L1158.0 2043.1L1160.0 2043.3L1162.0 2043.6L1164.0 2043.9L1166.0 2044.2L1168.0 2044.6L1170.0 2045.1L1172.0 2045.5L1174.0 2045.9L1176.0 2046.5L1178.0 2047.3L1180.0 2048.2L1182.0 2049.2L1184.0 2050.3L1186.0 2051.4L1188.0 2052.5L1190.0 2053.5L1192.0 2054.4L1194.0 2055.3L1196.0 2056.2L1198.0 2057.1L1200.0 2057.9L1202.0 2058.8L1204.0 2059.6L1206.0 2060.3L1208.0 2060.9L1210.0 2061.5L1212.0 2062.0L1214.0 2062.4L1216.0 2062.9L1218.0 2063.3L1220.0 2063.6L1222.0 2064.0L1224.0 2064.4L1226.0 2064.7L1228.0 2065.1L1230.0 2065.4L1232.0 2065.8L1234.0 2066.2L1236.0 2066.6L1238.0 2067.1L1240.0 2067.6L1242.0 2068.0L1244.0 2068.5L1246.0 2069.0L1248.0 2069.5L1250.0 2070.0L1252.0 2070.5L1254.0 2071.0L1256.0 2071.5L1258.0 2071.9L1260.0 2072.4L1262.0 2072.8L1264.0 2073.2L1266.0 2073.6L1268.0 2074.1L1270.0 2074.5L1272.0 2074.9L1274.0 2075.3L1276.0 2075.7L1278.0 2076.0L1280.0 2076.3L1282.0 2076.6L1284.0 2076.9L1286.0 2077.1L1288.0 2077.4L1290.0 2077.6L1292.0 2077.9L1294.0 2078.1L1296.0 2078.3L1298.0 2078.5L1300.0 2078.6L1302.0 2078.7L1304.0 2078.8L1306.0 2078.9L1308.0 2079.0L1310.0 2079.0L1312.0 2079.1L1314.0 2079.1L1316.0 2079.2L1318.0 2079.3L1320.0 2079.3L1322.0 2079.4L1324.0 2079.4L1326.0 2079.4L1328.0 2079.5L1330.0 2079.5L1332.0 2079.5L1334.0 2079.6L1336.0 2079.6L1338.0 2079.6L1340.0 2079.7L1342.0 2079.7L1344.0 2079.7L1346.0 2079.7L1348.0 2079.7L1350.0 2079.7L1352.0 2079.7L1354.0 2079.7L1356.0 2079.7L1358.0 2079.6L1360.0 2079.6L1362.0 2079.5L1364.0 2079.3L1366.0 2079.2L1368.0 2079.0L1370.0 2078.9L1372.0 2078.7L1374.0 2078.5L1376.0 2078.2L1378.0 2078.0L1380.0 2077.8L1382.0 2077.6L1384.0 2077.3L1386.0 2077.1L1388.0 2076.9L1390.0 2076.7L1392.0 2076.5L1394.0 2076.2L1396.0 2076.1L1398.0 2075.9L1400.0 2075.7L1402.0 2075.5L1404.0 2075.3L1406.0 2075.1L1408.0 2074.9L1410.0 2074.7L1412.0 2074.5L1414.0 2074.3L1416.0 2074.1L1418.0 2073.9L1420.0 2073.7L1422.0 2073.5L1424.0 2073.3L1426.0 2073.1L1428.0 2073.0L1430.0 2072.8L1432.0 2072.7L1434.0 2072.5L1436.0 2072.4L1438.0 2072.2L1440.0 2072.1L1442.0 2071.9L1444.0 2071.8L1446.0 2071.7L1448.0 2071.6L1450.0 2071.5L1452.0 2071.5L1454.0 2071.4L1456.0 2071.5L1458.0 2071.6L1460.0 2071.7L1462.0 2071.9L1464.0 2072.1L1466.0 2072.4L1468.0 2072.6L1470.0 2073.0L1472.0 2073.3L1474.0 2073.6L1476.0 2073.9L1478.0 2074.3L1480.0 2074.8L1482.0 2075.4L1484.0 2076.0L1486.0 2076.7L1488.0 2077.4L1490.0 2078.1L1492.0 2078.8L1494.0 2079.5L1496.0 2080.1L1498.0 2080.7L1500.0 2081.2L1502.0 2081.8L1504.0 2082.3L1506.0 2082.8L1508.0 2083.0L1510.0 2083.2L1512.0 2083.3L1514.0 2083.4L1516.0 2083.4"/>
<path class="dk" d="M309.3 2083.4H987.0M1515.0 2083.4H2027.1"/>
<path d="M700 2081.5C712 2081.5 714 2078.2 722 2078.2C730 2078.2 732 2081.5 744 2081.5" style="stroke:#b4b4b4;stroke-width:3.5px"/>
</g>
<text class="pn" x="244.0" y="1185.9">(b)</text>
<text class="axl" style="font-size:66.5px" text-anchor="middle" transform="translate(91.5 1583.0) rotate(-90) scale(0.965 1)">Deriv. weight (%/&#176;C)</text>
<text class="lb" text-anchor="end" x="1996.0" y="264.8">100/0</text>
<text class="lb" text-anchor="end" x="1982.5" y="474.3">95/5</text>
<text class="lb" text-anchor="end" x="1999.6" y="679.0">90/10</text>
<text class="lb" text-anchor="end" x="1996.7" y="848.6">80/20</text>
<text class="lb" text-anchor="end" x="1996.7" y="993.7">70/30</text>
<text class="lb" text-anchor="end" x="1994.8" y="1341.6">100/0</text>
<text class="lb" text-anchor="end" x="1976.8" y="1555.2">95/5</text>
<text class="lb" text-anchor="end" x="2000.8" y="1744.8">90/10</text>
<text class="lb" text-anchor="end" x="1994.8" y="1919.8">80/20</text>
<text class="lb" text-anchor="end" x="1990.3" y="2062.7">70/30</text>
<text class="ti" text-anchor="end" letter-spacing="0.35" x="1998.5" y="127.5">PLLA/CaCO<tspan font-size="34" font-weight="normal" stroke="#1e1e1e" stroke-width="0.9" dy="19.5">3</tspan><tspan dy="-19.5"> (%wt)</tspan></text>
<text class="ti" text-anchor="end" letter-spacing="0.25" x="1991.5" y="1198">PLLA-<tspan font-style="italic">b</tspan>-PEG-<tspan font-style="italic">b</tspan>-PLLA/CaCO<tspan font-size="34" font-weight="normal" stroke="#1e1e1e" stroke-width="0.9" dy="19.5">3</tspan><tspan dy="-19.5"> (%wt)</tspan></text>
<text class="axl" x="857.5" y="2260"><tspan letter-spacing="0.7">Temperature</tspan> (&#176;C)</text>
</svg>
</body></html>
